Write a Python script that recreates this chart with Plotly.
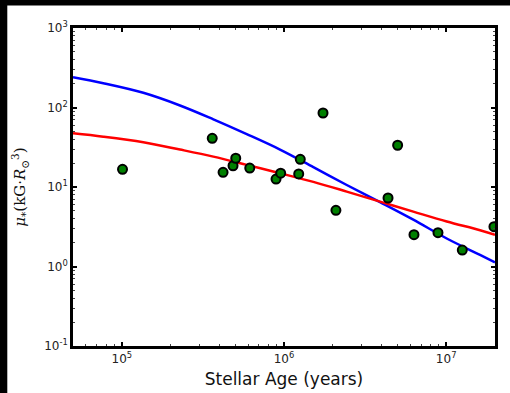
import plotly.graph_objects as go

# Observed stars
age = [1.01e5, 3.61e5, 4.21e5, 4.85e5, 5.04e5, 6.15e5, 8.93e5, 9.54e5, 1.232e6,
       1.26e6, 1.74e6, 2.09e6, 4.38e6, 5.02e6, 6.33e6, 8.9e6, 1.257e7, 1.97e7]
mu = [16.7, 41.0, 15.3, 18.5, 23.0, 17.3, 12.6, 14.9, 14.6,
      22.3, 85.3, 5.09, 7.27, 33.5, 2.51, 2.66, 1.61, 3.17]

# Model curves
blue_age = [5.0e4, 7.69e4, 1.357e5, 2.284e5, 3.667e5, 5.89e5, 9.45e5, 1.517e6,
            2.437e6, 3.91e6, 6.27e6, 1.008e7, 1.617e7, 2.0e7]
blue_mu = [240.0, 202.0, 153.0, 106.0, 71.0, 46.3, 29.6, 17.8,
           10.6, 6.45, 3.88, 2.25, 1.40, 1.13]

red_age = [5.0e4, 7.69e4, 1.357e5, 2.284e5, 3.667e5, 5.89e5, 9.45e5, 1.517e6,
           2.437e6, 3.91e6, 6.27e6, 1.008e7, 1.617e7, 2.0e7]
red_mu = [47.4, 43.0, 36.6, 29.6, 24.1, 19.0, 14.9, 11.6,
          8.75, 6.55, 4.9, 3.68, 2.86, 2.50]

x_ticks = [1e5, 1e6, 1e7]
x_ticktext = ["10<sup>5</sup>", "10<sup>6</sup>", "10<sup>7</sup>"]
y_ticks = [0.1, 1, 10, 100, 1000]
y_ticktext = ["10<sup>-1</sup>", "10<sup>0</sup>", "10<sup>1</sup>",
              "10<sup>2</sup>", "10<sup>3</sup>"]

minor_vals = [m * 10.0 ** e for e in range(-2, 8) for m in range(2, 10)]

fig = go.Figure()
fig.add_trace(go.Scatter(x=blue_age, y=blue_mu, mode="lines",
                         line=dict(color="#0000ff", width=2.5, shape="spline"),
                         showlegend=False))
fig.add_trace(go.Scatter(x=red_age, y=red_mu, mode="lines",
                         line=dict(color="#ff0000", width=2.5, shape="spline"),
                         showlegend=False))
fig.add_trace(go.Scatter(x=age, y=mu, mode="markers",
                         marker=dict(color="#008000", size=9,
                                     line=dict(color="black", width=2)),
                         showlegend=False))

axis_common = dict(
    showgrid=False, zeroline=False, showline=True, linecolor="black",
    linewidth=2.5, mirror="allticks", ticks="inside", ticklen=4,
    tickwidth=1.5, tickcolor="black", tickmode="array", automargin=False,
    tickfont=dict(family="DejaVu Sans", size=12, color="#222"),
    minor=dict(ticks="inside", ticklen=2, tickwidth=1, tickcolor="#444",
               tickmode="array", tickvals=minor_vals, showgrid=False),
)

fig.update_xaxes(type="log", range=[4.69897, 7.30103], tickvals=x_ticks,
                 ticktext=x_ticktext,
                 title=dict(text="Stellar Age (years)",
                            font=dict(family="DejaVu Sans", size=17, color="#111"),
                            standoff=8),
                 **axis_common)
fig.update_yaxes(type="log", range=[-1, 3], tickvals=y_ticks,
                 ticktext=y_ticktext,
                 title=dict(text="<i>μ</i><sub>*</sub>(kG·<i>R</i><sub>⊙</sub><sup>3</sup>)",
                            font=dict(family="DejaVu Serif", size=15, color="#111"),
                            standoff=15),
                 **axis_common)

fig.update_layout(
    width=510, height=393,
    margin=dict(l=73, r=15, t=28, b=47),
    paper_bgcolor="white", plot_bgcolor="white",
    shapes=[
        dict(type="rect", xref="paper", yref="paper", x0=-0.3, x1=-0.1557,
             y0=-0.3, y1=1.2, fillcolor="black", line=dict(width=0), layer="below"),
        dict(type="rect", xref="paper", yref="paper", x0=-0.3, x1=1.1,
             y0=1.0708, y1=1.2, fillcolor="black", line=dict(width=0), layer="below"),
    ],
)

fig.write_html("out.html")
